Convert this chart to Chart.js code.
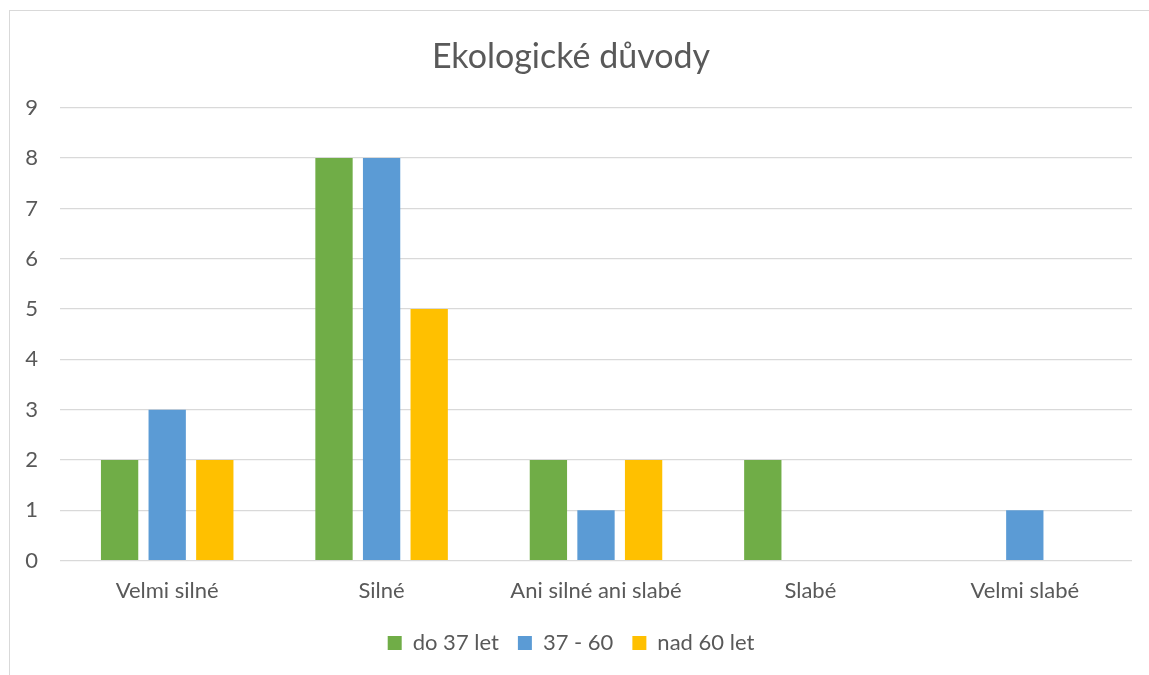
<!DOCTYPE html>
<html>
<head>
<meta charset="utf-8">
<script src="https://cdn.jsdelivr.net/npm/chart.js@4"></script>
<style>
  html, body { margin: 0; padding: 0; background: #fff; overflow: hidden; }
  #wrap {
    position: absolute; left: 9px; top: 10px; width: 1160px; height: 700px;
    border-left: 1px solid #d9d9d9; border-top: 1px solid #d9d9d9;
  }
  #box { position: absolute; left: 0; top: 0; width: 1139px; height: 665px; }
</style>
</head>
<body>
<div id="wrap"><div id="box"><canvas id="ekoChart"></canvas></div></div>
<script>
// Chart data
const categories = ['Velmi silné', 'Silné', 'Ani silné ani slabé', 'Slabé', 'Velmi slabé'];
const seriesNames = ['do 37 let', '37 - 60', 'nad 60 let'];
const young = [2, 8, 2, 2, 0];
const middle = [3, 8, 1, 0, 1];
const older = [2, 5, 2, 0, 0];
const yTicks = [0, 1, 2, 3, 4, 5, 6, 7, 8, 9];

const textColor = '#595959';
const gridColor = '#d9d9d9';
const fontFamily = 'Lato, "Open Sans", sans-serif';

function makeDataset(label, data, color) {
  return {
    label: label,
    data: data,
    backgroundColor: color,
    borderWidth: 0,
    categoryPercentage: 0.666,
    barPercentage: 0.784
  };
}

const ctx = document.getElementById('ekoChart');
const ekoChart = new Chart(ctx, {
  type: 'bar',
  data: {
    labels: categories,
    datasets: [
      makeDataset(seriesNames[0], young, '#70AD47'),
      makeDataset(seriesNames[1], middle, '#5B9BD5'),
      makeDataset(seriesNames[2], older, '#FFC000')
    ]
  },
  options: {
    responsive: true,
    maintainAspectRatio: false,
    animation: false,
    layout: {
      padding: { top: 0, right: 17, bottom: 12, left: 0 }
    },
    scales: {
      x: {
        grid: { display: false },
        border: { display: false },
        ticks: {
          color: textColor,
          font: { family: fontFamily, size: 22 },
          padding: 9,
          maxRotation: 0
        }
      },
      y: {
        min: yTicks[0],
        max: yTicks[yTicks.length - 1],
        afterFit: function(scale) { scale.width = 50; },
        afterBuildTicks: function(scale) {
          scale.ticks = yTicks.map(v => ({ value: v }));
        },
        grid: { color: gridColor, lineWidth: 1.3, drawTicks: false },
        border: { display: false },
        ticks: {
          color: textColor,
          font: { family: fontFamily, size: 22 },
          padding: 22
        }
      }
    },
    plugins: {
      title: {
        display: true,
        text: 'Ekologické důvody',
        color: textColor,
        font: { family: fontFamily, size: 34, weight: 'normal' },
        padding: { top: 26, bottom: 30 }
      },
      legend: {
        position: 'bottom',
        labels: {
          color: textColor,
          font: { family: fontFamily, size: 22 },
          boxWidth: 14,
          boxHeight: 14,
          padding: 19
        }
      },
      tooltip: { enabled: false }
    }
  }
});
</script>
</body>
</html>
